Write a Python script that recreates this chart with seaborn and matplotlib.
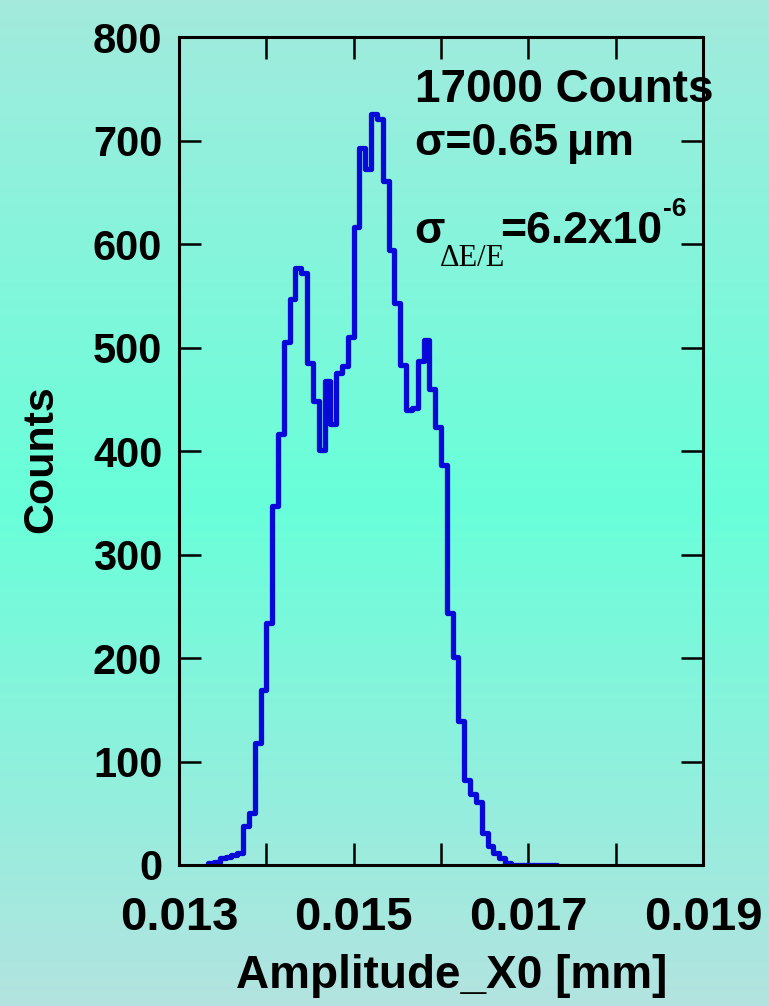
import numpy as np
import pandas as pd
import matplotlib
matplotlib.use("Agg")
import matplotlib.pyplot as plt
import seaborn as sns
from matplotlib.colors import LinearSegmentedColormap

# ---------------- data ----------------
x_min, x_max, n_bins = 0.013, 0.019, 90
first_bin = 5
counts = [2, 3, 7, 8, 10, 12, 38, 50, 118, 169,
          234, 347, 416, 505, 547, 577, 572, 485, 448, 401,
          468, 426, 475, 482, 510, 616, 693, 672, 726, 721,
          661, 594, 543, 483, 440, 442, 487, 507, 460, 423,
          386, 243, 201, 139, 82, 69, 61, 31, 18, 12,
          7, 2, 0, 0, 0, 0, 0, 0, 0, 0]
x_major = [0.013, 0.015, 0.017, 0.019]
x_minor = [0.014, 0.016, 0.018]
x_labels = ["0.013", "0.015", "0.017", "0.019"]
y_ticks = [0, 100, 200, 300, 400, 500, 600, 700, 800]
y_labels = ["0", "100", "200", "300", "400", "500", "600", "700", "800"]

edges = np.linspace(x_min, x_max, n_bins + 1)
sel_edges = edges[first_bin:first_bin + len(counts) + 1]
centers = (sel_edges[:-1] + sel_edges[1:]) / 2
df = pd.DataFrame({"x": centers, "w": np.array(counts, dtype=float)})

# ---------------- style ----------------
sns.set_theme(style="ticks")
plt.rcParams['font.family'] = ['Liberation Sans', 'DejaVu Sans']
plt.rcParams['font.weight'] = 'bold'
plt.rcParams['text.color'] = 'black'
plt.rcParams['axes.labelcolor'] = 'black'
plt.rcParams['xtick.color'] = 'black'
plt.rcParams['ytick.color'] = 'black'

W, H = 769, 1006
fig = plt.figure(figsize=(W / 100, H / 100), dpi=100)

# background vertical gradient
bg = fig.add_axes([0, 0, 1, 1], zorder=0)
cmap = LinearSegmentedColormap.from_list(
    "bg", [(0.0, "#A3EADD"), (0.5, "#68FFD9"), (1.0, "#B3E3E0")])
grad = np.linspace(0, 1, 256).reshape(-1, 1)
bg.imshow(grad, aspect="auto", cmap=cmap, extent=[0, 1, 0, 1], origin="upper")
bg.axis("off")

L, R, T, B = 179, 703, 37, 865
ax = fig.add_axes([L / W, 1 - B / H, (R - L) / W, (B - T) / H], zorder=1)
ax.patch.set_alpha(0)

sns.histplot(data=df, x="x", weights="w", bins=[float(e) for e in sel_edges],
             element="step", fill=False, color="#0808D8", linewidth=3.8, ax=ax)

ax.set_xlim(x_min, x_max)
ax.set_ylim(0, 800)
ax.set_xticks(x_major)
ax.set_xticklabels(x_labels)
ax.set_xticks(x_minor, minor=True)
ax.set_yticks(y_ticks)
ax.set_yticklabels(y_labels)
ax.tick_params(which="both", direction="in", length=16, width=1.8,
               top=True, right=True, colors="black")
ax.tick_params(axis="x", which="major", labelsize=34, pad=22)
ax.tick_params(axis="y", labelsize=30, pad=12)
for lab in ax.get_xticklabels() + ax.get_yticklabels():
    lab.set_fontweight("bold")
for s in ax.spines.values():
    s.set_linewidth(2.2)
    s.set_color("black")

ax.set_xlabel("Amplitude_X0 [mm]", fontsize=33, fontweight="bold")
ax.set_ylabel("Counts", fontsize=31, fontweight="bold")
ax.xaxis.set_label_coords(0.52, -0.108)
ax.yaxis.set_label_coords(-0.225, 0.49)

def ftext(px, py, s, **kw):
    fig.text(px / W, 1 - py / H, s, va="baseline", ha="left", **kw)

ftext(415, 102, "17000 Counts", fontsize=33, fontweight="bold")
ftext(415, 155, "σ=0.65\u2009μm", fontsize=32, fontweight="bold")
ftext(414, 243, "σ", fontsize=32, fontweight="bold")
ftext(440, 266, "ΔE/E", fontsize=22, fontweight="normal",
      family=["Liberation Serif", "DejaVu Serif"])
ftext(500, 243, "=6.2x10", fontsize=32, fontweight="bold")
ftext(663, 216, "-6", fontsize=19, fontweight="bold")

fig.savefig("out.png", dpi=100)
